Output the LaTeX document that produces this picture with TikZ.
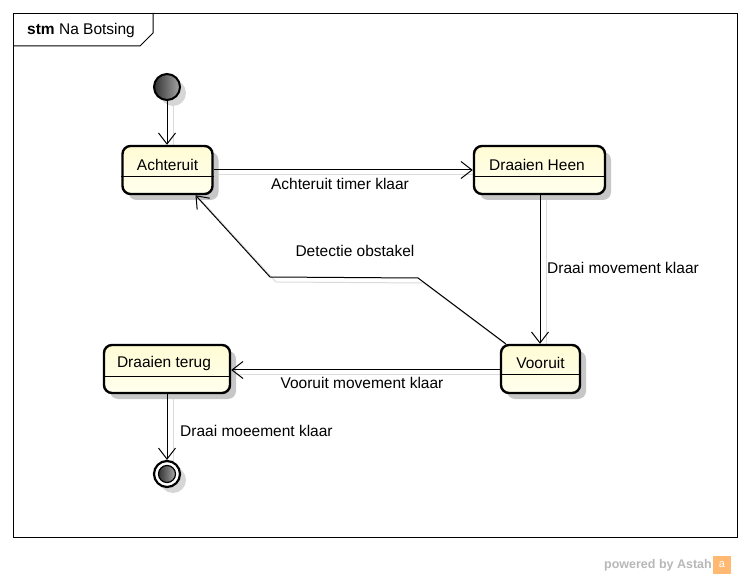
\documentclass[tikz,border=0pt]{standalone}
\usepackage{fontspec}
\setmainfont{Liberation Sans}
\usetikzlibrary{arrows.meta,shadows,calc}
\tikzset{
  x=1pt,y=-1pt,
  lbl/.style={font=\fontsize{15.5}{17}\selectfont, inner sep=0pt},
  statebox/.style={draw=black, line width=2.4pt, rounded corners=8pt,
    top color={rgb,255:red,255;green,252;blue,212}, bottom color={rgb,255:red,255;green,255;blue,238},
    drop shadow={shadow xshift=6pt, shadow yshift=-6pt, fill=black!22, opacity=1},
    inner sep=0pt},
  divider/.style={line width=1pt},
  conn/.style={line width=1pt, -{Straight Barb[length=11pt,width=17pt,line width=1pt]}},
  connshadow/.style={line width=1pt, draw=black!14, shift={(6,5)}},
  ballfill/.style={left color=black!80, right color=black!35},
}
\begin{document}
\begin{tikzpicture}
\useasboundingbox (0,0) rectangle (750,577);
\fill[white] (0,0) rectangle (750,577);
% frame
\node[draw, line width=1pt, minimum width=724pt, minimum height=524pt, inner sep=0pt, anchor=north west] (frame) at (13,13) {};
\coordinate (t1) at (153,13);
\coordinate (t2) at (153,33);
\coordinate (t3) at (140,46);
\coordinate (t4) at (13,46);
\draw[line width=1pt] (t1) -- (t2) -- (t3) -- (t4);
\node[lbl, anchor=west] (title) at (27,30) {\textbf{stm} Na Botsing};

% shadows for connectors
\draw[connshadow] (167,100) -- (167,146);
\draw[connshadow] (213,170) -- (474,170);
\draw[connshadow] (540,194) -- (540,345);
\draw[connshadow] (507,345) -- (418,278) -- (270,277) -- (195,195);
\draw[connshadow] (501,370) -- (230,370);
\draw[connshadow] (167,393) -- (167,461);

% initial state
\fill[black!16] (173,93) circle (13);
\node[circle, draw=black, line width=2pt, minimum size=26pt, inner sep=0pt, ballfill] (init) at (167,87) {};

% states
\node[statebox, minimum width=90pt, minimum height=48pt] (a) at (167.5,170) {};
\node[lbl] (aT) at (167.5,164.5) {Achteruit};
\draw[divider] (a.west |- 0,177) -- (a.east |- 0,177);

\node[statebox, minimum width=131pt, minimum height=48pt] (h) at (539.5,170) {};
\node[lbl] (hT) at (537,164.5) {Draaien Heen};
\draw[divider] (h.west |- 0,177) -- (h.east |- 0,177);

\node[statebox, minimum width=79pt, minimum height=48pt] (v) at (540.5,369) {};
\node[lbl] (vT) at (540.5,363) {Vooruit};
\draw[divider] (v.west |- 0,375) -- (v.east |- 0,375);

\node[statebox, minimum width=126pt, minimum height=48pt] (d) at (167,369) {};
\node[lbl] (dT) at (164,363) {Draaien terug};
\draw[divider] (d.west |- 0,377) -- (d.east |- 0,377);

% final state
\fill[black!16] (173,480) circle (13);
\node[circle, draw=black, line width=2.2pt, fill=white, minimum size=26pt, inner sep=0pt] (fin) at (167,474) {};
\node[circle, draw=black, line width=1.2pt, ballfill, minimum size=17pt, inner sep=0pt] (finin) at (fin.center) {};

% connectors
\draw[conn] (init) -- (a.north -| init);
\draw[conn] (a.east |- 0,170) -- (h.west |- 0,170);
\draw[conn] (h.south -| 540,0) -- (v.north -| 540,0);
\coordinate (b1) at (418,278);
\coordinate (b2) at (270,277);
\draw[conn] ([xshift=6pt]v.north west) -- (b1) -- (b2) -- ([xshift=28pt]a.south);
\draw[conn] (v.west |- 0,370) -- (d.east |- 0,370);
\draw[conn] (d.south) -- (fin.north);

% labels
\node[lbl] (l1) at (340,184) {Achteruit timer klaar};
\node[lbl] (l2) at (355,251) {Detectie obstakel};
\node[lbl, anchor=west] (l3) at (547,268) {Draai movement klaar};
\node[lbl] (l4) at (362,383) {Vooruit movement klaar};
\node[lbl, anchor=west] (l5) at (180,431) {Draai moeement klaar};

% powered by
\node[font=\fontsize{12.5}{14}\selectfont\bfseries, text=black!28, inner sep=0pt, anchor=east] (pw) at (712,565) {powered by Astah};
\node[fill=orange!55, minimum size=18pt, inner sep=0pt, font=\fontsize{11}{12}\selectfont, text=white] (logo) at (722,565) {a};
\end{tikzpicture}
\end{document}
